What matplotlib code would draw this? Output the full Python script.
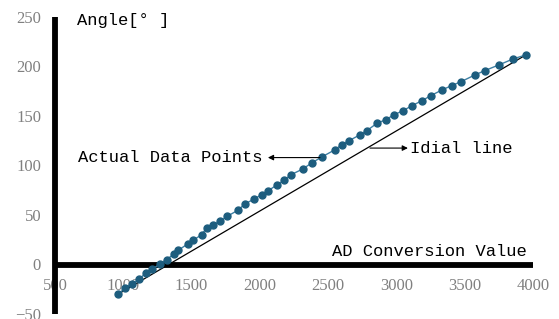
import matplotlib
matplotlib.use("Agg")
import matplotlib.pyplot as plt

ad_values = [959, 1012, 1062, 1117, 1164, 1212, 1269, 1318, 1373, 1403,
             1476, 1512, 1574, 1611, 1659, 1708, 1761, 1838, 1891, 1959,
             2013, 2062, 2127, 2177, 2228, 2313, 2379, 2453, 2550, 2599,
             2652, 2733, 2782, 2857, 2921, 2982, 3050, 3116, 3189, 3253,
             3335, 3404, 3475, 3575, 3648, 3750, 3855, 3948]
angles = [-30.2, -24.2, -19.2, -15.1, -8.4, -5.0, 0.7, 5.0, 10.8, 14.4,
          21.2, 24.5, 30.2, 37.0, 40.3, 43.6, 48.7, 54.7, 61.2, 66.2,
          70.6, 74.6, 80.6, 85.0, 90.7, 96.4, 102.5, 108.6, 115.9, 121.0,
          125.0, 131.0, 135.1, 142.6, 146.2, 151.2, 155.5, 160.6, 165.6, 170.7,
          176.4, 180.7, 184.8, 191.5, 195.9, 201.6, 207.7, 211.7]

x_ticks = [500, 1000, 1500, 2000, 2500, 3000, 3500, 4000]
y_ticks = [-50, 0, 50, 100, 150, 200, 250]

MONO = "Liberation Mono"
SERIF = "Liberation Serif"
POINT_COLOR = "#1d5d7e"

fig = plt.figure(figsize=(5.59, 3.19), dpi=100)
ax = fig.add_axes([55 / 559, 5 / 319, 478 / 559, 297 / 319])

# ideal line: straight from first to last measurement
ax.plot([ad_values[0], ad_values[-1]], [angles[0], angles[-1]],
        color="black", lw=0.9, zorder=2)
ax.plot(ad_values, angles, color="#3d7fa3", lw=1.0, marker="o",
        markersize=5, markerfacecolor=POINT_COLOR, markeredgecolor=POINT_COLOR,
        zorder=3)

ax.set_xlim(500, 4000)
ax.set_ylim(-50, 250)
ax.set_xticks(x_ticks)
ax.set_yticks(y_ticks)

for side in ["top", "right"]:
    ax.spines[side].set_visible(False)
ax.spines["bottom"].set_position(("data", 0))
for side in ["left", "bottom"]:
    ax.spines[side].set_linewidth(4.2)
    ax.spines[side].set_capstyle("butt")

ax.tick_params(axis="both", length=0, labelcolor="#808080", labelsize=12)
ax.tick_params(axis="x", pad=9.5)
ax.tick_params(axis="y", pad=10)
for lab in ax.get_xticklabels() + ax.get_yticklabels():
    lab.set_fontfamily(SERIF)

# axis titles
ax.text(661, 246, "Angle[° ]", family=MONO, fontsize=12.3, ha="left", va="center")
ax.text(3956, 13.6, "AD Conversion Value", family=MONO, fontsize=12.3,
        ha="right", va="center")

# annotations
ax.annotate("", xy=(2059, 108), xytext=(2440, 108),
            arrowprops=dict(arrowstyle="-|>", color="black", lw=0.8,
                            mutation_scale=8, shrinkA=0, shrinkB=0))
ax.text(2023, 108, "Actual Data Points", family=MONO, fontsize=12.3,
        ha="right", va="center")

ax.annotate("", xy=(3084, 117.6), xytext=(2806, 117.6),
            arrowprops=dict(arrowstyle="-|>", color="black", lw=0.8,
                            mutation_scale=8, shrinkA=0, shrinkB=0))
ax.text(3099, 117.6, "Idial line", family=MONO, fontsize=12.3,
        ha="left", va="center")

fig.savefig("out.png", dpi=100)
plt.close(fig)
